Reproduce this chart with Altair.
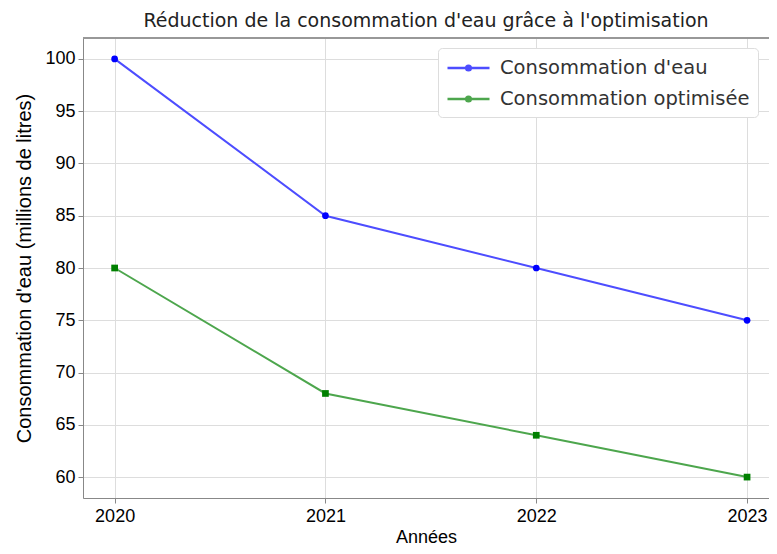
import altair as alt
import pandas as pd

years = [2020, 2021, 2022, 2023]
conso = [100, 85, 80, 75]
conso_opt = [80, 68, 64, 60]
series_names = ["Consommation d'eau", "Consommation optimisée"]
line_colors = ["#4d4dff", "#4da64d"]
marker_colors = ["#0000ff", "#008000"]
marker_shapes = ["circle", "square"]

rows = []
for y, a, b in zip(years, conso, conso_opt):
    rows.append({"Année": y, "valeur": a, "série": series_names[0]})
    rows.append({"Année": y, "valeur": b, "série": series_names[1]})
df = pd.DataFrame(rows)

FONT = "DejaVu Sans"
SPINE = "#999999"

x = alt.X("Année:Q",
          scale=alt.Scale(domain=[2019.85, 2023.104], nice=False, zero=False),
          axis=alt.Axis(values=years, format="d", title="Années", grid=True,
                        labelFontSize=18, titleFontSize=18, labelPadding=4,
                        titlePadding=3, titleFontWeight="normal"))
y = alt.Y("valeur:Q",
          scale=alt.Scale(domain=[58, 102], nice=False, zero=False),
          axis=alt.Axis(values=[60, 65, 70, 75, 80, 85, 90, 95, 100],
                        title="Consommation d'eau (millions de litres)",
                        labelFontSize=18, titleFontSize=20, labelPadding=3,
                        titlePadding=10, titleFontWeight="normal"))

legend_symbol = "M-1,0H3M0.78,0A0.22,0.22,0,1,1,1.22,0A0.22,0.22,0,1,1,0.78,0Z"

legend = alt.Legend(
    title=None, orient="none", legendX=355, legendY=10,
    labelFontSize=19.5, labelColor="#333333", labelFont=FONT, labelLimit=500,
    symbolType=legend_symbol, symbolSize=441, symbolStrokeWidth=2.5,
    labelOffset=30, rowPadding=9, padding=8,
    fillColor="white", strokeColor="#dddddd", cornerRadius=4,
)

lines = alt.Chart(df).mark_line(strokeWidth=2).encode(
    x=x, y=y,
    color=alt.Color("série:N", scale=alt.Scale(domain=series_names, range=line_colors), legend=legend),
)

point_layers = []
for name, col, shp in zip(series_names, marker_colors, marker_shapes):
    point_layers.append(
        alt.Chart(df).transform_filter(alt.datum["série"] == name)
        .mark_point(filled=True, size=45, opacity=1, shape=shp, fill=col, stroke=None)
        .encode(x=x, y=y)
    )

top_spine = alt.Chart(df).mark_rule(color=SPINE, strokeWidth=1.5).encode(
    x=alt.value(0), x2=alt.value(686), y=alt.value(0)
)

chart = alt.layer(lines, *point_layers, top_spine).properties(
    width=686, height=460,
    title=alt.TitleParams("Réduction de la consommation d'eau grâce à l'optimisation",
                          fontSize=19, fontWeight=500, color="#222222", font=FONT,
                          anchor="middle", offset=6),
    autosize=alt.AutoSizeParams(type="none"),
    padding={"left": 75, "top": 30, "right": 0, "bottom": 48},
).configure_view(
    stroke=None
).configure_axis(
    domain=True, domainColor=SPINE, domainWidth=1.5,
    tickColor=SPINE, tickSize=4, tickWidth=1,
    gridColor="#d0d0d0", gridDash=[2, 3], gridWidth=1,
    labelColor="#333333", titleColor="#333333",
    labelFont=FONT, titleFont=FONT,
).configure(background="white")

chart.save("out.html", embed_options={"renderer": "svg", "actions": False})
